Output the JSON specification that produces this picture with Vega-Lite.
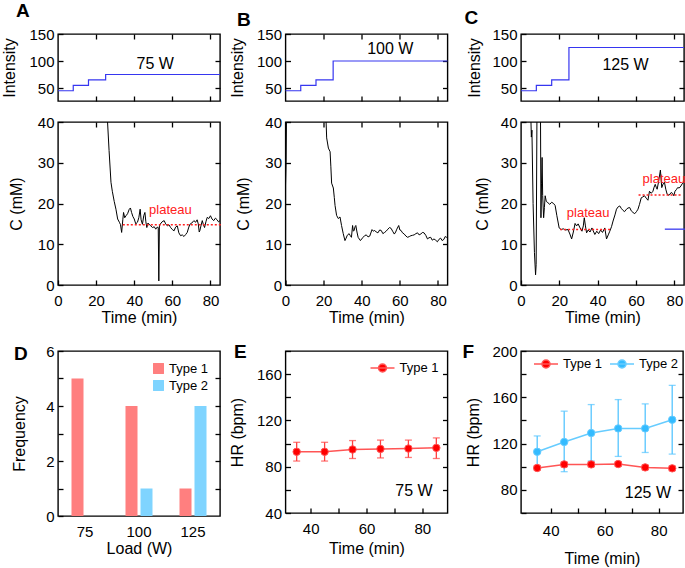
{
 "$schema": "https://vega.github.io/schema/vega-lite/v6.json",
 "padding": {"left": 0, "top": 1, "right": 0, "bottom": 0},
 "background": "white",
 "config": {
  "font": "Liberation Sans",
  "view": {"stroke": "black", "strokeWidth": 1.4},
  "axis": {"domain": false, "grid": false, "tickColor": "black", "tickSize": -5, "tickWidth": 1.3, "labelFontSize": 15, "labelColor": "black", "titleFontSize": 16, "titleFontWeight": "normal", "titleColor": "black", "titlePadding": 4, "labelFlush": false, "labelOverlap": false},
  "axisX": {"labelPadding": 13},
  "axisY": {"labelPadding": 9},
  "legend": {"labelFontSize": 13, "labelColor": "black"},
  "title": {"fontSize": 19, "fontWeight": "bold", "anchor": "start", "frame": "bounds", "color": "black"}
 },
 "resolve": {"scale": {"color": "independent", "fill": "independent", "stroke": "independent"}, "legend": {"color": "independent", "fill": "independent", "stroke": "independent"}},
 "bounds": "flush",
 "columns": 3,
 "spacing": {"row": 21, "column": 65.5},
 "concat": [
  {"title": {"text": "A", "offset": 6, "dx": 15}, "width": 162, "height": 67,
   "resolve": {"axis": {"x": "independent", "y": "independent"}},
   "layer": [
    {"data": {"values": [{"t": 0, "I": 45}, {"t": 8, "I": 55}, {"t": 16, "I": 65}, {"t": 25, "I": 75}, {"t": 85, "I": 75}]},
     "mark": {"type": "line", "interpolate": "step-after", "color": "#3636F0", "strokeWidth": 1.2},
     "encoding": {"x": {"field": "t", "type": "quantitative", "scale": {"domain": [0, 85], "nice": false}, "axis": {"values": [20, 40, 60, 80], "labels": false, "title": null}},
                  "y": {"field": "I", "type": "quantitative", "scale": {"domain": [26, 150], "nice": false, "zero": false}, "axis": {"values": [50, 100, 150], "title": "Intensity", "titleX": -41, "labelOverlap": false}}}},
    {"data": {"values": [{"t": 0, "I": 50}]},
     "mark": {"type": "point", "opacity": 0},
     "encoding": {"x": {"field": "t", "type": "quantitative", "axis": {"orient": "top", "values": [20, 40, 60, 80], "labels": false, "title": null}},
                  "y": {"field": "I", "type": "quantitative", "axis": {"orient": "right", "values": [50, 100], "labels": false, "title": null}}}},
    {"data": {"values": [{"t": 51, "I": 95, "label": "75 W"}]},
     "mark": {"type": "text", "fontSize": 16, "color": "black"},
     "encoding": {"x": {"field": "t", "type": "quantitative", "axis": null}, "y": {"field": "I", "type": "quantitative", "axis": null}, "text": {"field": "label"}}}
   ]},
  {"title": {"text": "B", "offset": -3, "dx": 7.5}, "width": 162, "height": 67,
   "resolve": {"axis": {"x": "independent", "y": "independent"}},
   "layer": [
    {"data": {"values": [{"t": 0, "I": 45}, {"t": 8, "I": 55}, {"t": 16, "I": 65}, {"t": 25, "I": 100}, {"t": 85, "I": 100}]},
     "mark": {"type": "line", "interpolate": "step-after", "color": "#3636F0", "strokeWidth": 1.2},
     "encoding": {"x": {"field": "t", "type": "quantitative", "scale": {"domain": [0, 85], "nice": false}, "axis": {"values": [20, 40, 60, 80], "labels": false, "title": null}},
                  "y": {"field": "I", "type": "quantitative", "scale": {"domain": [26, 150], "nice": false, "zero": false}, "axis": {"values": [50, 100, 150], "title": "Intensity", "titleX": -40, "labelOverlap": false}}}},
    {"data": {"values": [{"t": 0, "I": 50}]},
     "mark": {"type": "point", "opacity": 0},
     "encoding": {"x": {"field": "t", "type": "quantitative", "axis": {"orient": "top", "values": [20, 40, 60, 80], "labels": false, "title": null}},
                  "y": {"field": "I", "type": "quantitative", "axis": {"orient": "right", "values": [50, 100], "labels": false, "title": null}}}},
    {"data": {"values": [{"t": 55, "I": 123, "label": "100 W"}]},
     "mark": {"type": "text", "fontSize": 16, "color": "black"},
     "encoding": {"x": {"field": "t", "type": "quantitative", "axis": null}, "y": {"field": "I", "type": "quantitative", "axis": null}, "text": {"field": "label"}}}
   ]},
  {"title": {"text": "C", "offset": -1, "dx": -1.5}, "width": 163, "height": 67,
   "resolve": {"axis": {"x": "independent", "y": "independent"}},
   "layer": [
    {"data": {"values": [{"t": 0, "I": 45}, {"t": 8, "I": 55}, {"t": 16, "I": 65}, {"t": 25, "I": 125}, {"t": 85, "I": 125}]},
     "mark": {"type": "line", "interpolate": "step-after", "color": "#3636F0", "strokeWidth": 1.2},
     "encoding": {"x": {"field": "t", "type": "quantitative", "scale": {"domain": [0, 85], "nice": false}, "axis": {"values": [20, 40, 60, 80], "labels": false, "title": null}},
                  "y": {"field": "I", "type": "quantitative", "scale": {"domain": [26, 150], "nice": false, "zero": false}, "axis": {"values": [50, 100, 150], "title": "Intensity", "titleX": -39, "labelOverlap": false}}}},
    {"data": {"values": [{"t": 0, "I": 50}]},
     "mark": {"type": "point", "opacity": 0},
     "encoding": {"x": {"field": "t", "type": "quantitative", "axis": {"orient": "top", "values": [20, 40, 60, 80], "labels": false, "title": null}},
                  "y": {"field": "I", "type": "quantitative", "axis": {"orient": "right", "values": [50, 100], "labels": false, "title": null}}}},
    {"data": {"values": [{"t": 54.5, "I": 92, "label": "125 W"}]},
     "mark": {"type": "text", "fontSize": 16, "color": "black"},
     "encoding": {"x": {"field": "t", "type": "quantitative", "axis": null}, "y": {"field": "I", "type": "quantitative", "axis": null}, "text": {"field": "label"}}}
   ]},
  {"width": 162, "height": 163,
   "resolve": {"axis": {"x": "independent", "y": "independent"}},
   "layer": [
    {"data": {"values": [
      {"t":25.5,"c":45},{"t":26,"c":40},{"t":26.8,"c":33},{"t":27.8,"c":25.2},{"t":28.5,"c":23},{"t":29.5,"c":20.5},{"t":30.4,"c":18.6},{"t":31.3,"c":16.2},{"t":32.2,"c":15.4},{"t":32.8,"c":14.8},{"t":33.4,"c":12.9},{"t":34,"c":16},{"t":34.4,"c":17.8},{"t":35,"c":16.5},{"t":35.7,"c":17},{"t":36.5,"c":17.5},{"t":37.4,"c":18.6},{"t":38,"c":18.9},{"t":38.6,"c":17.8},{"t":39.3,"c":16.8},{"t":40,"c":16.2},{"t":40.8,"c":15},{"t":41.7,"c":15.4},{"t":42.4,"c":16.5},{"t":43.1,"c":18.6},{"t":43.6,"c":16},{"t":44.3,"c":14.9},{"t":45,"c":17},{"t":45.6,"c":17.8},{"t":46.1,"c":15.5},{"t":46.6,"c":14.1},{"t":47.2,"c":15.2},{"t":47.8,"c":14.9},{"t":48.7,"c":14.5},{"t":49.6,"c":14.1},{"t":50.5,"c":14.3},{"t":51.3,"c":13.7},{"t":52,"c":14.2},{"t":52.6,"c":14.1},{"t":52.9,"c":1},{"t":53.2,"c":14.5},{"t":53.6,"c":14.9},{"t":54.6,"c":15.5},{"t":55.7,"c":15.8},{"t":56.5,"c":15},{"t":57.4,"c":14.5},{"t":58.2,"c":14.8},{"t":59.1,"c":14.1},{"t":60,"c":13.6},{"t":60.9,"c":13.3},{"t":61.7,"c":14.2},{"t":62.6,"c":14.5},{"t":63.4,"c":12.8},{"t":64.3,"c":12.1},{"t":65.2,"c":12.3},{"t":66.1,"c":11.9},{"t":67,"c":12.4},{"t":67.8,"c":12.9},{"t":68.5,"c":14},{"t":69.2,"c":14.9},{"t":70.2,"c":15.2},{"t":71.3,"c":15.8},{"t":72.2,"c":15.4},{"t":73,"c":16},{"t":73.6,"c":15},{"t":74.1,"c":13},{"t":74.4,"c":13.3},{"t":75,"c":14.5},{"t":75.7,"c":15.8},{"t":76.3,"c":14.8},{"t":76.9,"c":14.1},{"t":77.6,"c":15.5},{"t":78.3,"c":16.6},{"t":79.1,"c":16.3},{"t":80,"c":17},{"t":80.8,"c":16.2},{"t":81.7,"c":15.8},{"t":82.6,"c":16.4},{"t":83.5,"c":16},{"t":84.2,"c":15.5},{"t":85,"c":15.8}]},
     "mark": {"type": "line", "color": "black", "strokeWidth": 1, "clip": true},
     "encoding": {"x": {"field": "t", "type": "quantitative", "scale": {"domain": [0, 85], "nice": false}, "axis": {"values": [0, 20, 40, 60, 80], "title": "Time (min)", "titleY": 24}},
                  "y": {"field": "c", "type": "quantitative", "scale": {"domain": [0, 40], "nice": false}, "axis": {"values": [0, 10, 20, 30, 40], "title": "C (mM)", "titleX": -34}}}},
    {"data": {"values": [{"t": 0, "c": 0}]},
     "mark": {"type": "point", "opacity": 0},
     "encoding": {"x": {"field": "t", "type": "quantitative", "axis": {"orient": "top", "values": [20, 40, 60, 80], "labels": false, "title": null}},
                  "y": {"field": "c", "type": "quantitative", "axis": {"orient": "right", "values": [10, 20, 30], "labels": false, "title": null}}}},
    {"data": {"values": [{"t": 34, "c": 14.8}, {"t": 86, "c": 14.8}]},
     "mark": {"type": "line", "color": "#FF2020", "strokeDash": [2, 2], "strokeWidth": 1.5},
     "encoding": {"x": {"field": "t", "type": "quantitative", "axis": null}, "y": {"field": "c", "type": "quantitative", "axis": null}}},
    {"data": {"values": [{"t": 59, "c": 18.3, "label": "plateau"}]},
     "mark": {"type": "text", "fontSize": 13, "color": "#FF2020"},
     "encoding": {"x": {"field": "t", "type": "quantitative", "axis": null}, "y": {"field": "c", "type": "quantitative", "axis": null}, "text": {"field": "label"}}}
   ]},
  {"width": 162, "height": 163,
   "resolve": {"axis": {"x": "independent", "y": "independent"}},
   "layer": [
    {"data": {"values": [
      {"t":0,"c":24.5},{"t":0.3,"c":30},{"t":0.6,"c":45},{"t":20.5,"c":45},{"t":21.3,"c":40},{"t":21.6,"c":36.1},{"t":22.5,"c":33.6},{"t":23.4,"c":32.7},{"t":23.8,"c":29},{"t":24.2,"c":25},{"t":25.1,"c":23.8},{"t":25.6,"c":21.5},{"t":26,"c":19.5},{"t":26.8,"c":17.1},{"t":27.7,"c":16.3},{"t":28.6,"c":16.7},{"t":29.4,"c":14.6},{"t":30.3,"c":12.6},{"t":31.2,"c":10.9},{"t":31.8,"c":11.5},{"t":32.4,"c":12.2},{"t":33.4,"c":12.6},{"t":34,"c":12.1},{"t":34.6,"c":11.7},{"t":35.2,"c":14.6},{"t":35.6,"c":13.2},{"t":36,"c":13.4},{"t":36.5,"c":14.3},{"t":36.9,"c":14.6},{"t":37.5,"c":13},{"t":38.1,"c":11.7},{"t":39.3,"c":10.9},{"t":40.7,"c":11.7},{"t":41.5,"c":12.1},{"t":42.4,"c":12.3},{"t":43.3,"c":11.8},{"t":44.2,"c":12},{"t":45.4,"c":13.6},{"t":46.1,"c":13.2},{"t":46.8,"c":13.4},{"t":47.6,"c":13},{"t":48.5,"c":12.8},{"t":49.4,"c":13.5},{"t":50.2,"c":13.4},{"t":51.1,"c":12.6},{"t":52,"c":12.9},{"t":52.8,"c":13.2},{"t":53.7,"c":13.7},{"t":54.6,"c":14.1},{"t":55.4,"c":13.9},{"t":56.2,"c":13.2},{"t":57.1,"c":12.5},{"t":57.8,"c":13},{"t":58.4,"c":13.7},{"t":59.4,"c":14.6},{"t":60,"c":13.5},{"t":60.6,"c":13.4},{"t":61.4,"c":12.8},{"t":62.3,"c":12.5},{"t":63.2,"c":12},{"t":64.1,"c":11.7},{"t":65,"c":11.9},{"t":65.8,"c":12.1},{"t":66.7,"c":12.2},{"t":67.5,"c":12.3},{"t":68.4,"c":12.6},{"t":69.3,"c":12.8},{"t":70.1,"c":12.3},{"t":71,"c":12.5},{"t":71.8,"c":12.9},{"t":72.7,"c":12.8},{"t":73.6,"c":12.2},{"t":74.5,"c":11.3},{"t":75.3,"c":11.6},{"t":76.2,"c":11.7},{"t":77,"c":11},{"t":77.9,"c":11.3},{"t":78.8,"c":11},{"t":79.7,"c":10.6},{"t":80.5,"c":11.2},{"t":81.4,"c":11.5},{"t":82.2,"c":10.9},{"t":83.1,"c":11.2},{"t":83.8,"c":11.9},{"t":84.5,"c":11.7},{"t":85,"c":11.5}]},
     "mark": {"type": "line", "color": "black", "strokeWidth": 1, "clip": true},
     "encoding": {"x": {"field": "t", "type": "quantitative", "scale": {"domain": [0, 85], "nice": false}, "axis": {"values": [0, 20, 40, 60, 80], "title": "Time (min)", "titleY": 24}},
                  "y": {"field": "c", "type": "quantitative", "scale": {"domain": [0, 40], "nice": false}, "axis": {"values": [0, 10, 20, 30, 40], "title": "C (mM)", "titleX": -34}}}},
    {"data": {"values": [{"t": 0, "c": 0}]},
     "mark": {"type": "point", "opacity": 0},
     "encoding": {"x": {"field": "t", "type": "quantitative", "axis": {"orient": "top", "values": [20, 40, 60, 80], "labels": false, "title": null}},
                  "y": {"field": "c", "type": "quantitative", "axis": {"orient": "right", "values": [10, 20, 30], "labels": false, "title": null}}}}
   ]},
  {"width": 163, "height": 163,
   "resolve": {"axis": {"x": "independent", "y": "independent"}},
   "layer": [
    {"data": {"values": [
      {"t":4.8,"c":60},{"t":5.2,"c":40},{"t":5.4,"c":36.3},{"t":5.7,"c":38},{"t":6.3,"c":20},{"t":7,"c":8},{"t":7.6,"c":2.5},{"t":7.9,"c":5},{"t":8.3,"c":40},{"t":8.5,"c":60},{"t":10,"c":60},{"t":10.4,"c":16.5},{"t":10.7,"c":25},{"t":11,"c":31.3},{"t":11.3,"c":22},{"t":11.8,"c":16.5},{"t":12.2,"c":19},{"t":12.6,"c":21.9},{"t":13.2,"c":20.5},{"t":14,"c":20.2},{"t":15,"c":19.8},{"t":16,"c":20.3},{"t":17,"c":20},{"t":17.8,"c":19.5},{"t":18.7,"c":17},{"t":19.9,"c":14},{"t":21,"c":13.6},{"t":22,"c":13.8},{"t":23,"c":13.5},{"t":24.5,"c":13.6},{"t":25.5,"c":12.5},{"t":26.4,"c":11.3},{"t":27.3,"c":13},{"t":28.2,"c":15.1},{"t":29,"c":14.5},{"t":29.8,"c":15},{"t":30.8,"c":14},{"t":31.8,"c":13.2},{"t":32.5,"c":14.5},{"t":33,"c":16.5},{"t":33.6,"c":14.5},{"t":34.2,"c":12.8},{"t":35,"c":13.5},{"t":36,"c":13},{"t":37,"c":14},{"t":38.5,"c":12.4},{"t":39.5,"c":13.2},{"t":40.5,"c":12.6},{"t":41.5,"c":13.5},{"t":42.5,"c":12.9},{"t":43.7,"c":14},{"t":44.6,"c":11.3},{"t":45.5,"c":12.3},{"t":46.3,"c":13.2},{"t":47.2,"c":14.3},{"t":48,"c":15.7},{"t":49,"c":17.2},{"t":49.8,"c":18.6},{"t":50.7,"c":19.2},{"t":51.5,"c":19.4},{"t":52.3,"c":18.8},{"t":53.2,"c":18.3},{"t":54,"c":18},{"t":55,"c":18.6},{"t":55.8,"c":18.9},{"t":56.7,"c":19},{"t":57.5,"c":18.2},{"t":58.4,"c":17.8},{"t":59.3,"c":17.5},{"t":60.2,"c":18},{"t":61,"c":18.6},{"t":61.8,"c":19.8},{"t":62.7,"c":21.4},{"t":63.5,"c":21.6},{"t":64.4,"c":21.9},{"t":65.3,"c":21.3},{"t":66.2,"c":20.8},{"t":67,"c":23},{"t":67.9,"c":22.5},{"t":68.8,"c":23},{"t":69.4,"c":24},{"t":70,"c":24.7},{"t":70.5,"c":24},{"t":71,"c":23.5},{"t":71.8,"c":25.5},{"t":72.7,"c":28.2},{"t":73.4,"c":23.9},{"t":74.1,"c":24.8},{"t":74.8,"c":25.2},{"t":75.5,"c":23.5},{"t":76.2,"c":22.3},{"t":77.2,"c":22},{"t":78.3,"c":22.7},{"t":79,"c":22.5},{"t":79.7,"c":21.9},{"t":80.3,"c":23},{"t":81,"c":23.4},{"t":81.7,"c":23.9},{"t":82.5,"c":23.8},{"t":83.4,"c":24.3},{"t":84,"c":24.8},{"t":84.7,"c":25.2}]},
     "mark": {"type": "line", "color": "black", "strokeWidth": 1, "clip": true},
     "encoding": {"x": {"field": "t", "type": "quantitative", "scale": {"domain": [0, 85], "nice": false}, "axis": {"values": [0, 20, 40, 60, 80], "title": "Time (min)", "titleY": 24}},
                  "y": {"field": "c", "type": "quantitative", "scale": {"domain": [0, 40], "nice": false}, "axis": {"values": [0, 10, 20, 30, 40], "title": "C (mM)", "titleX": -31}}}},
    {"data": {"values": [{"t": 0, "c": 0}]},
     "mark": {"type": "point", "opacity": 0},
     "encoding": {"x": {"field": "t", "type": "quantitative", "axis": {"orient": "top", "values": [20, 40, 60, 80], "labels": false, "title": null}},
                  "y": {"field": "c", "type": "quantitative", "axis": {"orient": "right", "values": [10, 20, 30], "labels": false, "title": null}}}},
    {"data": {"values": [{"t": 20.4, "c": 13.6, "seg": "p1"}, {"t": 46.8, "c": 13.6, "seg": "p1"}, {"t": 61.3, "c": 22.1, "seg": "p2"}, {"t": 83.4, "c": 22.1, "seg": "p2"}]},
     "mark": {"type": "line", "color": "#FF2020", "strokeDash": [2, 2], "strokeWidth": 1.5},
     "encoding": {"x": {"field": "t", "type": "quantitative", "axis": null}, "y": {"field": "c", "type": "quantitative", "axis": null}, "detail": {"field": "seg"}}},
    {"data": {"values": [{"t": 75, "c": 13.7}, {"t": 85.5, "c": 13.7}]},
     "mark": {"type": "line", "color": "#3a3af0", "strokeWidth": 1.3},
     "encoding": {"x": {"field": "t", "type": "quantitative", "axis": null}, "y": {"field": "c", "type": "quantitative", "axis": null}}},
    {"data": {"values": [{"t": 35, "c": 17.6, "label": "plateau"}, {"t": 74.5, "c": 26, "label": "plateau"}]},
     "mark": {"type": "text", "fontSize": 13, "color": "#FF2020"},
     "encoding": {"x": {"field": "t", "type": "quantitative", "axis": null}, "y": {"field": "c", "type": "quantitative", "axis": null}, "text": {"field": "label"}}}
   ]},
  {"width": 162, "height": 24, "data": {"values": [{"v": 0}]}, "mark": {"type": "point", "opacity": 0}, "view": {"stroke": null}},
  {"width": 169.5, "height": 24, "data": {"values": [{"v": 0}]}, "mark": {"type": "point", "opacity": 0}, "view": {"stroke": null}},
  {"width": 162, "height": 24, "data": {"values": [{"v": 0}]}, "mark": {"type": "point", "opacity": 0}, "view": {"stroke": null}},
  {"title": {"text": "D", "offset": -20, "dx": 3}, "width": 162, "height": 165,
   "resolve": {"axis": {"y": "independent"}},
   "data": {"values": [{"load": "75", "type": "Type 1", "n": 5}, {"load": "75", "type": "Type 2", "n": 0}, {"load": "100", "type": "Type 1", "n": 4}, {"load": "100", "type": "Type 2", "n": 1}, {"load": "125", "type": "Type 1", "n": 1}, {"load": "125", "type": "Type 2", "n": 4}]},
   "layer": [
    {"mark": {"type": "bar"},
     "encoding": {
      "x": {"field": "load", "type": "ordinal", "sort": ["75", "100", "125"], "scale": {"paddingInner": 0.5, "paddingOuter": 0.25}, "axis": {"labelAngle": 0, "ticks": false, "title": "Load (W)", "titleY": 24, "labelPadding": 8}},
      "xOffset": {"field": "type", "scale": {"paddingInner": 0.2}},
      "y": {"field": "n", "type": "quantitative", "scale": {"domain": [0, 6], "nice": false}, "axis": {"values": [0, 1, 2, 3, 4, 5, 6], "labelExpr": "datum.value % 2 == 0 ? datum.label : ''", "title": "Frequency", "titleX": -31}},
      "color": {"field": "type", "type": "nominal", "scale": {"domain": ["Type 1", "Type 2"], "range": ["#FF7F7F", "#7FD4FF"]}, "legend": {"title": null, "orient": "top-right", "symbolType": "square", "symbolSize": 120, "labelFontSize": 13, "offset": 11, "symbolStrokeWidth": 0, "rowPadding": 3}}
     }},
    {"mark": {"type": "point", "opacity": 0},
     "encoding": {
      "y": {"field": "n", "type": "quantitative", "axis": {"orient": "right", "values": [1, 2, 3, 4, 5], "labels": false, "title": null}}
     }}
   ]},
  {"title": {"text": "E", "offset": -18, "dx": 4.5}, "width": 162, "height": 162,
   "resolve": {"axis": {"y": "independent"}},
   "data": {"values": [
    {"t": 35, "hr": 92.9, "lo": 84.9, "hi": 101.1, "type": "Type 1"},
    {"t": 45, "hr": 92.9, "lo": 84.9, "hi": 101.1, "type": "Type 1"},
    {"t": 55, "hr": 94.9, "lo": 87.1, "hi": 102.6, "type": "Type 1"},
    {"t": 65, "hr": 95.4, "lo": 87.6, "hi": 103, "type": "Type 1"},
    {"t": 75, "hr": 95.7, "lo": 88, "hi": 103, "type": "Type 1"},
    {"t": 85, "hr": 96.3, "lo": 87.1, "hi": 104.9, "type": "Type 1"}]},
   "layer": [
    {"mark": {"type": "errorbar", "color": "#FF4040", "ticks": {"size": 7, "thickness": 1.3}, "rule": {"strokeWidth": 1.3}},
     "encoding": {"x": {"field": "t", "type": "quantitative", "scale": {"domain": [31, 89], "nice": false}, "axis": {"values": [40, 50, 60, 70, 80], "labelExpr": "datum.value % 20 == 0 ? datum.label : ''", "title": "Time (min)", "titleY": 27}},
                  "y": {"field": "lo", "type": "quantitative", "scale": {"domain": [40, 180], "nice": false}, "axis": {"values": [40, 60, 80, 100, 120, 140, 160, 180], "labelExpr": "datum.value % 40 == 0 ? datum.label : ''", "title": "HR (bpm)", "titleX": -40}},
                  "y2": {"field": "hi"}}},
    {"mark": {"type": "point", "opacity": 0},
     "encoding": {"x": {"field": "t", "type": "quantitative"},
                  "y": {"field": "hr", "type": "quantitative", "axis": {"orient": "right", "values": [60, 80, 100, 120, 140, 160], "labels": false, "title": null}}}},
    {"mark": {"type": "line", "strokeWidth": 1.5, "color": "#FF5555"},
     "encoding": {"x": {"field": "t", "type": "quantitative"}, "y": {"field": "hr", "type": "quantitative", "axis": null}}},
    {"mark": {"type": "point", "filled": true, "size": 55, "opacity": 1, "strokeWidth": 1},
     "encoding": {"x": {"field": "t", "type": "quantitative"}, "y": {"field": "hr", "type": "quantitative", "axis": null},
                  "fill": {"field": "type", "type": "nominal", "scale": {"domain": ["Type 1"], "range": ["#FF0000"]}, "legend": {"title": null, "orient": "top-right", "offset": 8, "symbolType": "M-1.5,0H1.5M0.5,0A0.5,0.5,0,1,1,-0.5,0A0.5,0.5,0,1,1,0.5,0", "symbolSize": 256, "symbolStrokeWidth": 1.5, "labelFontSize": 13, "labelOffset": 8}},
                  "stroke": {"field": "type", "type": "nominal", "scale": {"domain": ["Type 1"], "range": ["#FF5555"]}, "legend": {"title": null, "orient": "top-right", "offset": 8, "symbolType": "M-1.5,0H1.5M0.5,0A0.5,0.5,0,1,1,-0.5,0A0.5,0.5,0,1,1,0.5,0", "symbolSize": 256, "symbolStrokeWidth": 1.5, "labelFontSize": 13, "labelOffset": 8}}}},
    {"data": {"values": [{"t": 77, "hr": 59, "label": "75 W"}]},
     "mark": {"type": "text", "fontSize": 16, "color": "black"},
     "encoding": {"x": {"field": "t", "type": "quantitative"}, "y": {"field": "hr", "type": "quantitative", "axis": null}, "text": {"field": "label"}}}
   ]},
  {"title": {"text": "F", "offset": -18, "dx": -2.5}, "width": 162, "height": 162,
   "resolve": {"axis": {"y": "independent"}},
   "data": {"values": [
    {"t": 35, "hr": 112.9, "lo": 99.4, "hi": 126.6, "type": "Type 2"},
    {"t": 45, "hr": 121.4, "lo": 95.7, "hi": 148, "type": "Type 2"},
    {"t": 55, "hr": 129.1, "lo": 105, "hi": 153.7, "type": "Type 2"},
    {"t": 65, "hr": 133.1, "lo": 108.9, "hi": 158, "type": "Type 2"},
    {"t": 75, "hr": 133.1, "lo": 112.3, "hi": 154.3, "type": "Type 2"},
    {"t": 85, "hr": 140.6, "lo": 110.9, "hi": 170.3, "type": "Type 2"},
    {"t": 35, "hr": 98.9, "lo": 97, "hi": 101, "type": "Type 1"},
    {"t": 45, "hr": 102, "lo": 100, "hi": 104, "type": "Type 1"},
    {"t": 55, "hr": 102, "lo": 100, "hi": 104, "type": "Type 1"},
    {"t": 65, "hr": 102.3, "lo": 100.3, "hi": 104.3, "type": "Type 1"},
    {"t": 75, "hr": 99.4, "lo": 97.4, "hi": 101.4, "type": "Type 1"},
    {"t": 85, "hr": 98.6, "lo": 96.6, "hi": 100.6, "type": "Type 1"}]},
   "layer": [
    {"transform": [{"filter": "datum.type === 'Type 2'"}],
     "mark": {"type": "errorbar", "color": "#55C5FF", "ticks": {"size": 7, "thickness": 1.3}, "rule": {"strokeWidth": 1.3}},
     "encoding": {"x": {"field": "t", "type": "quantitative", "scale": {"domain": [29, 89], "nice": false}, "axis": {"values": [40, 50, 60, 70, 80], "labelExpr": "datum.value % 20 == 0 ? datum.label : ''", "title": "Time (min)", "titleY": 37, "labelPadding": 15}},
                  "y": {"field": "lo", "type": "quantitative", "scale": {"domain": [60, 200], "nice": false}, "axis": {"values": [60, 80, 100, 120, 140, 160, 180, 200], "labelExpr": "datum.value % 40 == 0 ? datum.label : ''", "title": "HR (bpm)", "titleX": -40}},
                  "y2": {"field": "hi"}}},
    {"transform": [{"filter": "datum.type === 'Type 1'"}],
     "mark": {"type": "errorbar", "color": "#FF4040", "ticks": {"size": 7, "thickness": 1.3}, "rule": {"strokeWidth": 1.3}},
     "encoding": {"x": {"field": "t", "type": "quantitative"},
                  "y": {"field": "lo", "type": "quantitative", "axis": null},
                  "y2": {"field": "hi"}}},
    {"mark": {"type": "point", "opacity": 0},
     "encoding": {"x": {"field": "t", "type": "quantitative"},
                  "y": {"field": "hr", "type": "quantitative", "axis": {"orient": "right", "values": [80, 100, 120, 140, 160, 180], "labels": false, "title": null}}}},
    {"transform": [{"filter": "datum.type === 'Type 2'"}],
     "mark": {"type": "line", "strokeWidth": 1.5, "color": "#66CCFF"},
     "encoding": {"x": {"field": "t", "type": "quantitative"}, "y": {"field": "hr", "type": "quantitative", "axis": null}}},
    {"transform": [{"filter": "datum.type === 'Type 1'"}],
     "mark": {"type": "line", "strokeWidth": 1.5, "color": "#FF5555"},
     "encoding": {"x": {"field": "t", "type": "quantitative"}, "y": {"field": "hr", "type": "quantitative", "axis": null}}},
    {"mark": {"type": "point", "filled": true, "size": 55, "opacity": 1, "strokeWidth": 1},
     "encoding": {"x": {"field": "t", "type": "quantitative"}, "y": {"field": "hr", "type": "quantitative", "axis": null},
                  "fill": {"field": "type", "type": "nominal", "scale": {"domain": ["Type 1", "Type 2"], "range": ["#FF0000", "#33BBFF"]}, "legend": {"title": null, "orient": "top-right", "direction": "horizontal", "offset": 4, "columnPadding": 4, "symbolType": "M-1.5,0H1.5M0.5,0A0.5,0.5,0,1,1,-0.5,0A0.5,0.5,0,1,1,0.5,0", "symbolSize": 256, "symbolStrokeWidth": 1.5, "labelFontSize": 13, "labelOffset": 8}},
                  "stroke": {"field": "type", "type": "nominal", "scale": {"domain": ["Type 1", "Type 2"], "range": ["#FF5555", "#66CCFF"]}, "legend": {"title": null, "orient": "top-right", "direction": "horizontal", "offset": 4, "columnPadding": 4, "symbolType": "M-1.5,0H1.5M0.5,0A0.5,0.5,0,1,1,-0.5,0A0.5,0.5,0,1,1,0.5,0", "symbolSize": 256, "symbolStrokeWidth": 1.5, "labelFontSize": 13, "labelOffset": 8}}}},
    {"data": {"values": [{"t": 76, "hr": 77, "label": "125 W"}]},
     "mark": {"type": "text", "fontSize": 16, "color": "black"},
     "encoding": {"x": {"field": "t", "type": "quantitative"}, "y": {"field": "hr", "type": "quantitative", "axis": null}, "text": {"field": "label"}}}
   ]}
 ]
}
